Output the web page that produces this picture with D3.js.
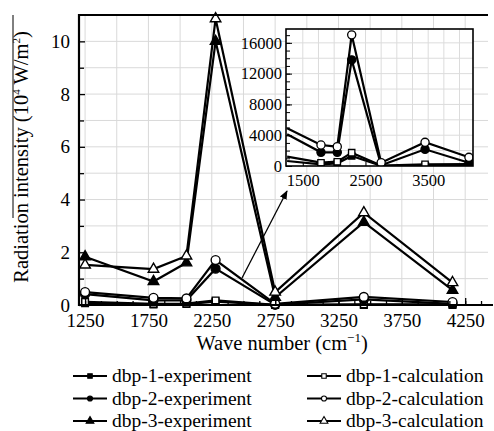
<!DOCTYPE html>
<html><head><meta charset="utf-8">
<script src="https://cdn.jsdelivr.net/npm/d3@7"></script>
<style>
html,body{margin:0;padding:0;background:#fff;}
svg{display:block;font-family:"Liberation Serif","Times New Roman",serif;}
</style></head>
<body><svg id="c" width="494" height="431"></svg>
<script>
// ---- data ----
const waveNumbers = [1250, 1790, 2050, 2280, 2750, 3450, 4150];
// main plot values, 10^4 W/m^2
const dbp3Experiment = [1.83, 0.89, 1.60, 10.0, 0.29, 3.14, 0.56];
const dbp3Calculation = [1.52, 1.36, 1.86, 10.86, 0.49, 3.50, 0.85];
// inset values, W/m^2
const dbp2Experiment = [4120, 1780, 1780, 13790, 100, 2170, 430];
const dbp2Calculation = [4900, 2730, 2510, 17040, 430, 3080, 1130];
const dbp1Experiment = [650, 220, 350, 1300, 30, 30, 30];
const dbp1Calculation = [1210, 430, 560, 1730, 50, 220, 260];
const mainXTicks = [1250, 1750, 2250, 2750, 3250, 3750, 4250];
const mainYTicks = [0, 2, 4, 6, 8, 10];
const insetXTicks = [1500, 2500, 3500];
const insetYTicks = [0, 4000, 8000, 12000, 16000];
const seriesNames = ["dbp-1-experiment","dbp-1-calculation","dbp-2-experiment","dbp-2-calculation","dbp-3-experiment","dbp-3-calculation"];

const svg = d3.select("#c");
const FONT = 19;
const SERIF = "Liberation Serif, Times New Roman, serif";

// ---- main scales ----
const x = d3.scaleLinear().domain([1202, 4430]).range([79, 488]);
const y = d3.scaleLinear().domain([0, 11]).range([305, 15]);

const series = [
  {name:seriesNames[0], vals: dbp1Experiment.map(v=>v/1e4), sym:"square", fill:true},
  {name:seriesNames[1], vals: dbp1Calculation.map(v=>v/1e4), sym:"square", fill:false},
  {name:seriesNames[2], vals: dbp2Experiment.map(v=>v/1e4), sym:"circle", fill:true},
  {name:seriesNames[3], vals: dbp2Calculation.map(v=>v/1e4), sym:"circle", fill:false},
  {name:seriesNames[4], vals: dbp3Experiment, sym:"triangle", fill:true},
  {name:seriesNames[5], vals: dbp3Calculation, sym:"triangle", fill:false},
];
const symType = {square:d3.symbolSquare, circle:d3.symbolCircle, triangle:d3.symbolTriangle};
const symSize = {square:44, circle:62, triangle:48};

// grid
const g = svg.append("g");
g.selectAll(".vg").data(d3.range(1250, 4251, 250)).join("line")
  .attr("x1", d=>x(d)).attr("x2", d=>x(d)).attr("y1", y(0)).attr("y2", y(11))
  .attr("stroke", "#d9d9d9").attr("stroke-width", 1);
g.selectAll(".hg").data(d3.range(1, 11, 1)).join("line")
  .attr("x1", x.range()[0]).attr("x2", x.range()[1]).attr("y1", d=>y(d)).attr("y2", d=>y(d))
  .attr("stroke", "#d9d9d9").attr("stroke-width", 1);

// lines
const line = d3.line().x((d,i)=>x(waveNumbers[i])).y(d=>y(d));
series.forEach(s=>{
  svg.append("path").attr("d", line(s.vals)).attr("fill","none")
    .attr("stroke","#000").attr("stroke-width",2.2).attr("stroke-linejoin","miter");
});
series.forEach(s=>{
  svg.append("g").selectAll("path").data(s.vals).join("path")
    .attr("transform",(d,i)=>`translate(${x(waveNumbers[i])},${y(d)})`)
    .attr("d", d3.symbol().type(symType[s.sym]).size(symSize[s.sym])())
    .attr("fill", s.fill ? "#000" : "#fff").attr("stroke","#000").attr("stroke-width",1.4);
});

// axes
const ax = svg.append("g").attr("transform",`translate(0,${y(0)})`);
ax.call(d3.axisBottom(x).tickValues(d3.range(1250, 4400, 125)).tickSizeInner(-4).tickSizeOuter(0).tickFormat(""));
ax.append("g").call(d3.axisBottom(x).tickValues(mainXTicks).tickSizeInner(-7).tickSizeOuter(0).tickPadding(9).tickFormat(d3.format("d")));
ax.selectAll(".domain").remove();
ax.selectAll("g").attr("font-family", SERIF);
ax.attr("font-family", SERIF);
ax.selectAll("line").attr("stroke","#000").attr("stroke-width",1.3);
ax.selectAll("text").attr("font-size",FONT).attr("font-family",SERIF).attr("fill","#000");

const ay = svg.append("g").attr("transform",`translate(${x.range()[0]},0)`);
ay.call(d3.axisLeft(y).tickValues(d3.range(1, 11, 2)).tickSizeInner(-5).tickSizeOuter(0).tickFormat(""));
ay.append("g").call(d3.axisLeft(y).tickValues(mainYTicks).tickSizeInner(-6).tickSizeOuter(0).tickPadding(9).tickFormat(d3.format("d")));
ay.selectAll(".domain").remove();
ay.attr("font-family", SERIF);
ay.selectAll("g").attr("font-family", SERIF);
ay.selectAll("line").attr("stroke","#000").attr("stroke-width",1.3);
ay.selectAll("text").attr("font-size",FONT).attr("font-family",SERIF).attr("fill","#000");

// frame lines
svg.append("line").attr("x1",x.range()[0]).attr("x2",x.range()[0]).attr("y1",y(11)-1).attr("y2",y(0)+1).attr("stroke","#000").attr("stroke-width",2.2);
svg.append("line").attr("x1",x.range()[0]).attr("x2",488).attr("y1",y(11)).attr("y2",y(11)).attr("stroke","#000").attr("stroke-width",2.2);
svg.append("line").attr("x1",x.range()[0]).attr("x2",493).attr("y1",y(0)).attr("y2",y(0)).attr("stroke","#000").attr("stroke-width",2.2);

// axis titles
const xt = svg.append("text").attr("x",282).attr("y",350).attr("text-anchor","middle").attr("font-size",20.5);
xt.append("tspan").text("Wave number (cm");
xt.append("tspan").attr("font-size",13).attr("dy",-8).text("−1");
xt.append("tspan").attr("dy",8).text(")");

const yt = svg.append("text").attr("transform","translate(28,157) rotate(-90)").attr("text-anchor","middle").attr("font-size",20.5);
yt.append("tspan").text("Radiation intensity (10");
yt.append("tspan").attr("font-size",11).attr("dy",-8).text("4");
yt.append("tspan").attr("dy",8).text(" W/m");
yt.append("tspan").attr("font-size",11).attr("dy",-8).text("2");
yt.append("tspan").attr("dy",8).text(")");
svg.append("line").attr("x1",13).attr("x2",13).attr("y1",15).attr("y2",218).attr("stroke","#000").attr("stroke-width",1);

// arrow
svg.append("defs").append("marker").attr("id","ah").attr("viewBox","0 0 10 10").attr("refX",9).attr("refY",5)
  .attr("markerWidth",7).attr("markerHeight",7).attr("orient","auto")
  .append("path").attr("d","M0,1 L10,5 L0,9 Z").attr("fill","#000");
svg.append("line").attr("x1",242).attr("y1",278).attr("x2",287).attr("y2",191)
  .attr("stroke","#000").attr("stroke-width",1.3).attr("marker-end","url(#ah)");

// ---- inset ----
const ix = d3.scaleLinear().domain([1232, 4215]).range([286, 473]);
const iy = d3.scaleLinear().domain([0, 17800]).range([166, 29]);
const ins = svg.append("g");
ins.append("rect").attr("x",286).attr("y",29).attr("width",187).attr("height",137).attr("fill","#fff");
ins.append("clipPath").attr("id","ic").append("rect").attr("x",286).attr("y",29).attr("width",187).attr("height",137);
ins.selectAll(".ivg").data(d3.range(1500, 4201, 250)).join("line")
  .attr("x1",d=>ix(d)).attr("x2",d=>ix(d)).attr("y1",166).attr("y2",29).attr("stroke","#dcdcdc").attr("stroke-width",1);
ins.selectAll(".ihg").data(d3.range(2000, 17800, 2000)).join("line")
  .attr("x1",286).attr("x2",473).attr("y1",d=>iy(d)).attr("y2",d=>iy(d)).attr("stroke","#dcdcdc").attr("stroke-width",1);

const insetSeries = [
  {vals: dbp1Experiment, sym:"square", fill:true},
  {vals: dbp1Calculation, sym:"square", fill:false},
  {vals: dbp2Experiment, sym:"circle", fill:true},
  {vals: dbp2Calculation, sym:"circle", fill:false},
];
const iline = d3.line().x((d,i)=>ix(waveNumbers[i])).y(d=>iy(d));
const ig = ins.append("g").attr("clip-path","url(#ic)");
insetSeries.forEach(s=>{
  ig.append("path").attr("d", iline(s.vals)).attr("fill","none").attr("stroke","#000").attr("stroke-width",2.2);
});
insetSeries.forEach(s=>{
  const pts = s.vals.map((v,i)=>({v, w:waveNumbers[i]})).filter(p=>p.w > 1300);
  ig.append("g").selectAll("path").data(pts).join("path")
    .attr("transform",p=>`translate(${ix(p.w)},${iy(p.v)})`)
    .attr("d", d3.symbol().type(symType[s.sym]).size(s.sym==="circle"?52:40)())
    .attr("fill", s.fill?"#000":"#fff").attr("stroke","#000").attr("stroke-width",1.3);
});
// inset axes
const iax = ins.append("g").attr("transform","translate(0,166)");
iax.call(d3.axisBottom(ix).tickValues(insetXTicks).tickSizeInner(-4).tickSizeOuter(0).tickPadding(8).tickFormat(d3.format("d")));
iax.selectAll(".domain").remove();
iax.attr("font-family", SERIF);
iax.selectAll("text").attr("font-size",16.5).attr("font-family",SERIF).attr("fill","#000");
const iay = ins.append("g").attr("transform","translate(286,0)");
iay.call(d3.axisLeft(iy).tickValues(d3.range(0, 17001, 1000)).tickSizeInner(-4).tickSizeOuter(0).tickFormat(""));
iay.append("g").call(d3.axisLeft(iy).tickValues(insetYTicks).tickSizeInner(-6).tickSizeOuter(0).tickPadding(4).tickFormat(d3.format("d")));
iay.selectAll(".domain").remove();
iay.attr("font-family", SERIF);
iay.selectAll("g").attr("font-family", SERIF);
iay.selectAll("text").attr("font-size",16.5).attr("font-family",SERIF).attr("fill","#000");
ins.selectAll(".tick line").attr("stroke","#000");
ins.append("rect").attr("x",286).attr("y",29).attr("width",187).attr("height",137)
  .attr("fill","none").attr("stroke","#000").attr("stroke-width",1.6);

// ---- legend ----
const legendItems = series.map((s,i)=>({...s, col: i%2, row: Math.floor(i/2)}));
const lg = svg.append("g");
legendItems.forEach(it=>{
  const x0 = it.col===0 ? 73 : 307;
  const yy = 376 + it.row*22.5;
  lg.append("line").attr("x1",x0).attr("x2",x0+34).attr("y1",yy).attr("y2",yy).attr("stroke","#000").attr("stroke-width",2);
  lg.append("path").attr("transform",`translate(${x0+17},${yy})`)
    .attr("d", d3.symbol().type(symType[it.sym]).size(it.sym==="triangle"?26:20)())
    .attr("fill", it.fill?"#000":"#fff").attr("stroke","#000").attr("stroke-width",1.1);
  lg.append("text").attr("x", x0+39).attr("y", yy+6).attr("font-size",19.5).text(it.name);
});
</script></body></html>
